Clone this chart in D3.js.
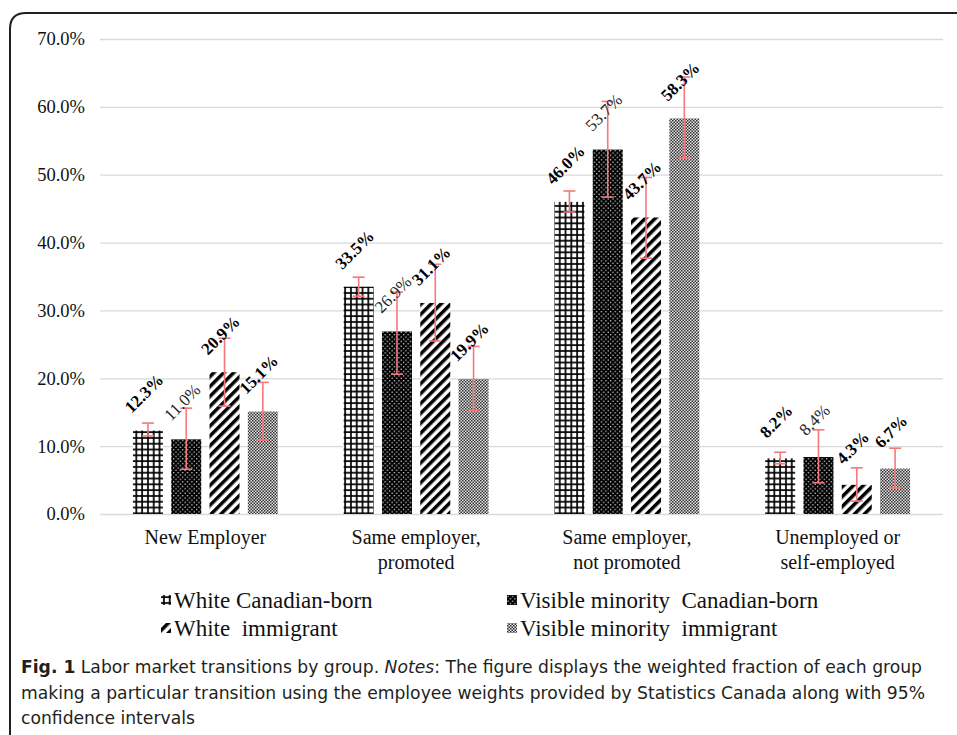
<!DOCTYPE html>
<html>
<head>
<meta charset="utf-8">
<script src="https://cdn.jsdelivr.net/npm/d3@7"></script>
<style>
  body { margin: 0; background: #fff; }
  svg { display: block; }
</style>
</head>
<body>
<div id="chart"></div>
<script>

// Categories (x axis) and the line breaks used under the axis
var categories = ["New Employer", "Same employer, promoted", "Same employer, not promoted", "Unemployed or self-employed"];
var categoryLines = [["New Employer"], ["Same employer,", "promoted"], ["Same employer,", "not promoted"], ["Unemployed or", "self-employed"]];

// Series names (legend)
var seriesNames = ["White Canadian-born", "Visible minority  Canadian-born", "White  immigrant", "Visible minority  immigrant"];

// Values in percent
var whiteCanadian = [12.3, 33.5, 46.0, 8.2];
var vmCanadian = [11.0, 26.9, 53.7, 8.4];
var whiteImmigrant = [20.9, 31.1, 43.7, 4.3];
var vmImmigrant = [15.1, 19.9, 58.3, 6.7];

// 95% confidence intervals (low / high), percent
var whiteCanadianLo = [11.5, 32.1, 44.5, 7.4],   whiteCanadianHi = [13.4, 34.9, 47.6, 9.1];
var vmCanadianLo = [6.6, 20.6, 46.7, 4.6],       vmCanadianHi = [15.6, 32.7, 60.8, 12.4];
var whiteImmigrantLo = [15.9, 25.5, 37.7, 1.9],  whiteImmigrantHi = [25.9, 36.8, 49.6, 6.8];
var vmImmigrantLo = [10.9, 15.2, 52.4, 3.8],     vmImmigrantHi = [19.4, 24.7, 64.4, 9.7];

// Y ticks
var yTicks = [0, 10, 20, 30, 40, 50, 60, 70];

var captionLines = [
    [{t: "Fig. 1", b: true}, {t: " Labor market transitions by group. "}, {t: "Notes", i: true}, {t: ": The figure displays the weighted fraction of each group"}],
    [{t: "making a particular transition using the employee weights provided by Statistics Canada along with 95%"}],
    [{t: "confidence intervals"}]
];

///////////////////////////////////////////////////////////////////////////
///////////////////////////// Set up the SVG //////////////////////////////
///////////////////////////////////////////////////////////////////////////

var width = 957,
    height = 735;

var svg = d3.select("#chart")
    .append("svg")
        .attr("width", width)
        .attr("height", height);

var serifFont = "'Liberation Serif', 'Times New Roman', Times, serif";

var series = seriesNames.map(function(name, s) {
    var vals = [whiteCanadian, vmCanadian, whiteImmigrant, vmImmigrant][s],
        lo = [whiteCanadianLo, vmCanadianLo, whiteImmigrantLo, vmImmigrantLo][s],
        hi = [whiteCanadianHi, vmCanadianHi, whiteImmigrantHi, vmImmigrantHi][s];
    return {
        name: name,
        index: s,
        values: vals.map(function(v, i) { return {cat: categories[i], value: v, lo: lo[i], hi: hi[i], s: s}; })
    };
});

// Frame of the figure box (rounded top-left corner)
svg.append("path")
    .attr("d", "M10,735 L10,29 Q10,13 26,13 L957,13")
    .attr("fill", "none")
    .attr("stroke", "#231f20")
    .attr("stroke-width", 2);

///////////////////////////////////////////////////////////////////////////
//////////////////////////////// Patterns /////////////////////////////////
///////////////////////////////////////////////////////////////////////////

var defs = svg.append("defs");

// Large grid
var pGrid = defs.append("pattern")
    .attr("id", "p0")
    .attr("patternUnits", "userSpaceOnUse")
    .attr("width", 5.8)
    .attr("height", 5.8);
pGrid.append("rect").attr("width", 5.8).attr("height", 5.8).attr("fill", "#fff");
pGrid.append("rect").attr("x", 2.1).attr("width", 1.7).attr("height", 5.8).attr("fill", "#000");
pGrid.append("rect").attr("y", 2.1).attr("width", 5.8).attr("height", 1.7).attr("fill", "#000");

// Black with white dots
var pDots = defs.append("pattern")
    .attr("id", "p1")
    .attr("patternUnits", "userSpaceOnUse")
    .attr("width", 4.6)
    .attr("height", 4.6);
pDots.append("rect").attr("width", 4.6).attr("height", 4.6).attr("fill", "#000");
pDots.append("circle").attr("cx", 1.1).attr("cy", 1.1).attr("r", 0.7).attr("fill", "#fff");
pDots.append("circle").attr("cx", 3.4).attr("cy", 3.4).attr("r", 0.7).attr("fill", "#fff");

// Wide upward diagonal
var pDiag = defs.append("pattern")
    .attr("id", "p2")
    .attr("patternUnits", "userSpaceOnUse")
    .attr("width", 7)
    .attr("height", 7)
    .attr("patternTransform", "rotate(45)");
pDiag.append("rect").attr("width", 7).attr("height", 7).attr("fill", "#fff");
pDiag.append("rect").attr("width", 3.5).attr("height", 7).attr("fill", "#000");

// Fine checker (grey)
var pCheck = defs.append("pattern")
    .attr("id", "p3")
    .attr("patternUnits", "userSpaceOnUse")
    .attr("width", 3)
    .attr("height", 3);
pCheck.append("rect").attr("width", 3).attr("height", 3).attr("fill", "#e4e4e4");
pCheck.append("rect").attr("width", 1.5).attr("height", 1.5).attr("fill", "#303030");
pCheck.append("rect").attr("x", 1.5).attr("y", 1.5).attr("width", 1.5).attr("height", 1.5).attr("fill", "#303030");

///////////////////////////////////////////////////////////////////////////
///////////////////////////////// Scales //////////////////////////////////
///////////////////////////////////////////////////////////////////////////

var x0 = d3.scaleBand()
    .domain(categories)
    .range([100, 943]);

var x1 = d3.scaleBand()
    .domain(d3.range(seriesNames.length))
    .range([0, x0.bandwidth()])
    .paddingInner(0.217)
    .paddingOuter(0.86);

var y = d3.scaleLinear()
    .domain([0, 70])
    .range([514, 39]);

///////////////////////////////////////////////////////////////////////////
///////////////////////////////// Axes ////////////////////////////////////
///////////////////////////////////////////////////////////////////////////

var yAxis = svg.append("g")
    .attr("transform", "translate(100,0)")
    .call(d3.axisLeft(y)
        .tickValues(yTicks)
        .tickSize(-843)
        .tickPadding(15)
        .tickFormat(function(d) { return d.toFixed(1) + "%"; }));

yAxis.select(".domain").remove();
yAxis.selectAll(".tick line")
    .attr("stroke", "#d9d9d9")
    .attr("stroke-width", 1.3);
yAxis.selectAll(".tick text")
    .attr("fill", "#111")
    .style("font-family", serifFont)
    .style("font-size", "18.5px");

// Category labels
svg.append("g")
    .selectAll("text")
    .data(categories)
    .enter()
    .append("text")
        .attr("x", function(d) { return x0(d) + x0.bandwidth() / 2; })
        .attr("y", 544)
        .attr("text-anchor", "middle")
        .style("font-family", serifFont)
        .style("font-size", "20px")
        .attr("fill", "#111")
        .each(function(d, i) {
            var t = d3.select(this);
            categoryLines[i].forEach(function(line, j) {
                t.append("tspan")
                    .attr("x", x0(d) + x0.bandwidth() / 2)
                    .attr("dy", j === 0 ? 0 : 25)
                    .text(line);
            });
        });

///////////////////////////////////////////////////////////////////////////
///////////////////////////////// Bars ////////////////////////////////////
///////////////////////////////////////////////////////////////////////////

var groups = svg.append("g")
    .selectAll("g")
    .data(series)
    .enter()
    .append("g");

groups.selectAll("rect")
    .data(function(d) { return d.values; })
    .enter()
    .append("rect")
        .attr("x", function(d) { return x0(d.cat) + x1(d.s); })
        .attr("y", function(d) { return y(d.value); })
        .attr("width", x1.bandwidth())
        .attr("height", function(d) { return y(0) - y(d.value); })
        .attr("fill", function(d) { return "url(#p" + d.s + ")"; });

// Error bars
var errColor = "#f5787c";

groups.selectAll("g.err")
    .data(function(d) { return d.values; })
    .enter()
    .append("g")
        .attr("class", "err")
        .attr("transform", function(d) { return "translate(" + (x0(d.cat) + x1(d.s) + x1.bandwidth() / 2) + ",0)"; })
        .each(function(d) {
            var g = d3.select(this);
            g.append("line")
                .attr("x1", 0).attr("x2", 0)
                .attr("y1", y(d.lo)).attr("y2", y(d.hi));
            g.append("line")
                .attr("x1", -6).attr("x2", 6)
                .attr("y1", y(d.lo)).attr("y2", y(d.lo));
            g.append("line")
                .attr("x1", -6).attr("x2", 6)
                .attr("y1", y(d.hi)).attr("y2", y(d.hi));
        })
        .selectAll("line")
            .attr("stroke", errColor)
            .attr("stroke-width", 1.6);

// Value labels (rotated)
groups.selectAll("text")
    .data(function(d) { return d.values; })
    .enter()
    .append("text")
        .attr("transform", function(d) {
            return "translate(" + (x0(d.cat) + x1(d.s) + x1.bandwidth() / 2) + "," + (y(d.value) - 33) + ")rotate(-45)";
        })
        .attr("text-anchor", "middle")
        .style("font-family", serifFont)
        .style("font-size", "17px")
        .style("font-weight", function(d) { return d.s === 1 ? "normal" : "bold"; })
        .attr("fill", function(d) { return d.s === 1 ? "#262626" : "#000"; })
        .text(function(d) { return d.value.toFixed(1) + "%"; });

///////////////////////////////////////////////////////////////////////////
///////////////////////////////// Legend //////////////////////////////////
///////////////////////////////////////////////////////////////////////////

var legendX = [161, 507],
    legendY = [600, 628];

var legend = svg.append("g")
    .selectAll("g")
    .data(series)
    .enter()
    .append("g")
        .attr("transform", function(d, i) { return "translate(" + legendX[i % 2] + "," + legendY[Math.floor(i / 2)] + ")"; });

legend.append("rect")
    .attr("x", 0)
    .attr("y", -5)
    .attr("width", 10)
    .attr("height", 10)
    .attr("fill", function(d) { return "url(#p" + d.index + ")"; });

legend.append("text")
    .attr("x", 13)
    .attr("y", 7.5)
    .style("font-family", serifFont)
    .style("font-size", "23px")
    .style("white-space", "pre")
    .attr("fill", "#111")
    .text(function(d) { return d.name; });

///////////////////////////////////////////////////////////////////////////
///////////////////////////////// Caption /////////////////////////////////
///////////////////////////////////////////////////////////////////////////

var captionFont = "'Liberation Sans Narrow', 'DejaVu Sans Condensed', 'Open Sans', sans-serif";
var captionY = [673, 699, 724],
    captionWidth = [901, 904];

var caption = svg.append("g");
var ratio = 1;

captionLines.forEach(function(parts, i) {
    var t = caption.append("text")
        .attr("x", 21)
        .attr("y", captionY[i])
        .style("font-family", captionFont)
        .style("font-stretch", "condensed")
        .style("font-size", "18px")
        .style("white-space", "pre")
        .attr("fill", "#231f20");
    parts.forEach(function(p) {
        t.append("tspan")
            .style("font-weight", p.b ? "bold" : "normal")
            .style("font-style", p.i ? "italic" : "normal")
            .text(p.t);
    });
    var natural = t.node().getComputedTextLength();
    if (i < captionWidth.length) {
        if (i === 0) ratio = captionWidth[0] / natural;
        t.attr("textLength", captionWidth[i]).attr("lengthAdjust", "spacingAndGlyphs");
    } else {
        t.attr("textLength", natural * ratio).attr("lengthAdjust", "spacingAndGlyphs");
    }
});

</script>
</body>
</html>
